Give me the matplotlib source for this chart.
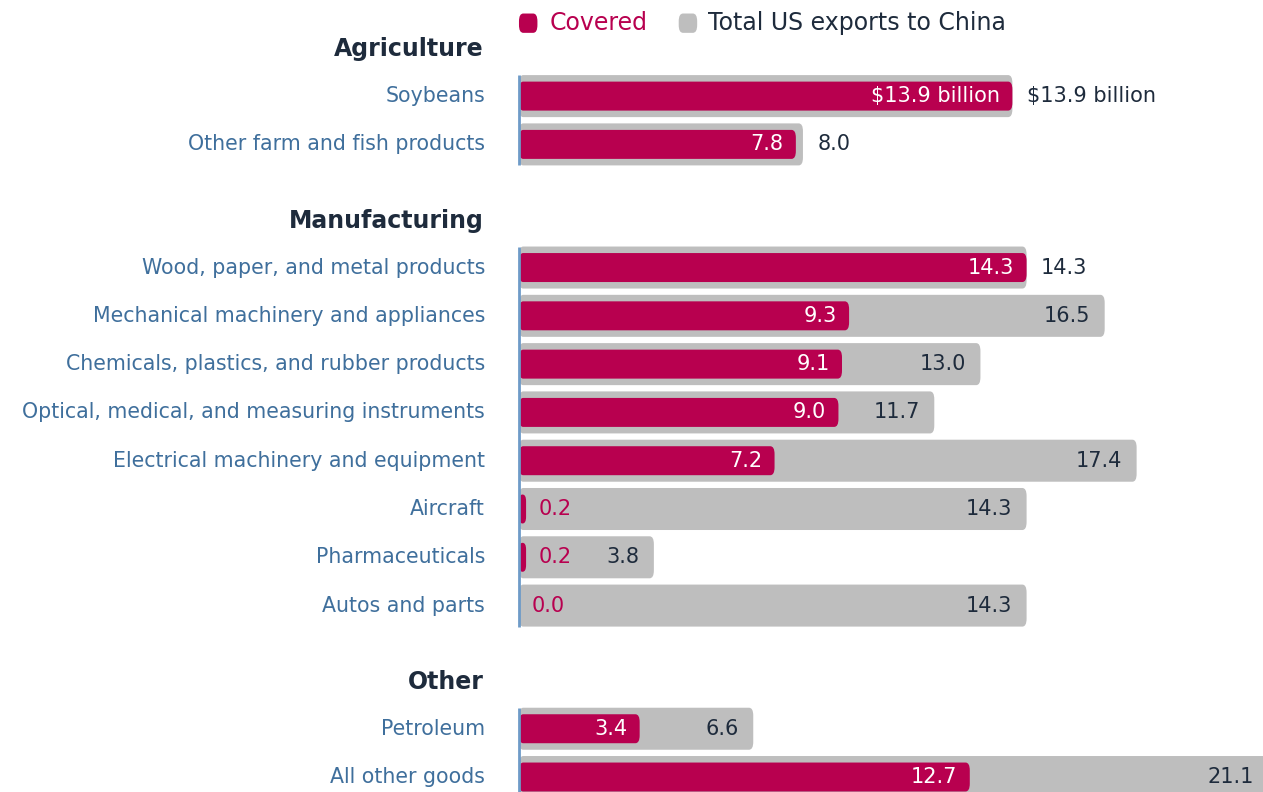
import matplotlib
matplotlib.use("Agg")
import matplotlib.pyplot as plt
from matplotlib.patches import FancyBboxPatch

plt.rcParams["font.family"] = ["DejaVu Sans"]

groups = ["Agriculture", "Manufacturing", "Other"]
group_items = [
    ["Soybeans", "Other farm and fish products"],
    ["Wood, paper, and metal products", "Mechanical machinery and appliances",
     "Chemicals, plastics, and rubber products", "Optical, medical, and measuring instruments",
     "Electrical machinery and equipment", "Aircraft", "Pharmaceuticals", "Autos and parts"],
    ["Petroleum", "All other goods"],
]
covered = [13.9, 7.8, 14.3, 9.3, 9.1, 9.0, 7.2, 0.2, 0.2, 0.0, 3.4, 12.7]
total = [13.9, 8.0, 14.3, 16.5, 13.0, 11.7, 17.4, 14.3, 3.8, 14.3, 6.6, 21.1]

red = "#B8004F"
gray = "#BEBEBE"
blue_txt = "#3F6F9C"
dark = "#1E2B3C"
axis_blue = "#6E9BC8"

fig = plt.figure(figsize=(12.63, 7.92), dpi=100)
ax = fig.add_axes([0, 0, 1, 1])
ax.set_xlim(-14.62, 20.96)
ax.set_ylim(14.41, -1.99)
ax.axis("off")

gh = 0.87   # gray bar height
rh = 0.6    # red bar height
fs = 14.8
vfs = 15.0

# row positions with gaps between groups
pos = []
heads = []
p = 0.0
for g, items in zip(groups, group_items):
    heads.append(p - 0.97)
    start = p
    for it in items:
        pos.append(p)
        p += 1
    ax.plot([0, 0], [start - gh / 2, p - 1 + gh / 2], color=axis_blue, lw=2, solid_capstyle="butt", zorder=5)
    p += 1.55

labels = [it for items in group_items for it in items]

for g, hy in zip(groups, heads):
    ax.text(-1.0, hy, g, ha="right", va="center", fontsize=17, fontweight="bold", color=dark)

def rbar(x0, y, w, h, color):
    if w <= 0:
        return
    r = min(0.12, w / 2)
    ax.add_patch(FancyBboxPatch((x0, y - h / 2), w, h,
                                boxstyle="round,pad=0,rounding_size=%f" % r,
                                mutation_aspect=1.36, fc=color, ec="none", zorder=2))

for lab, y, c, t in zip(labels, pos, covered, total):
    ax.text(-0.96, y, lab, ha="right", va="center", fontsize=fs, color=blue_txt)
    rbar(0, y, t, gh, gray)
    rbar(0, y, c, rh, red)
    # covered label
    ctext = "$13.9 billion" if lab == "Soybeans" else "%.1f" % c
    if c > 2:
        ax.text(c - 0.35, y, ctext, ha="right", va="center", fontsize=vfs, color="white", zorder=3)
    else:
        ax.text(c + 0.35, y, ctext, ha="left", va="center", fontsize=vfs, color=red, zorder=3)
    # total label
    ttext = "$13.9 billion" if lab == "Soybeans" else "%.1f" % t
    if t - c < 1.5:
        ax.text(t + 0.4, y, ttext, ha="left", va="center", fontsize=vfs, color=dark, zorder=3)
    else:
        ax.text(t - 0.4, y, ttext, ha="right", va="center", fontsize=vfs, color=dark, zorder=3)

# legend
ly = -1.51
rbar(0.0, ly, 0.52, 0.4, red)
ax.text(0.85, ly, "Covered", ha="left", va="center", fontsize=17, color=red)
rbar(4.5, ly, 0.52, 0.4, gray)
ax.text(5.32, ly, "Total US exports to China", ha="left", va="center", fontsize=17, color=dark)

fig.savefig("out.png", dpi=100)
